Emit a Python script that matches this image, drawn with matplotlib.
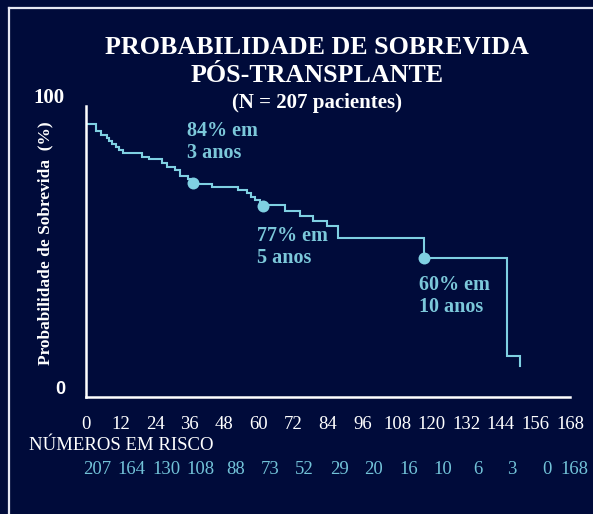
#!/usr/bin/env python

import matplotlib
matplotlib.use("Agg")
import matplotlib.pyplot as plt

W, H = 593, 514

# Kaplan-Meier curve (months, survival %)
months = [0, 3.4, 5.1, 7.2, 8.0, 9.1, 10.3, 11.5, 13.0, 19.3, 21.9, 26.4, 28.1,
          30.9, 32.6, 35.4, 36.8, 43.8, 52.8, 55.9, 57.3, 58.7, 60.4, 69.1,
          74.3, 78.8, 83.7, 87.5, 117.4, 146.2, 150.7]
survival = [93.8, 91.5, 90.0, 88.9, 88.0, 86.9, 85.9, 84.8, 83.7, 82.6, 81.8,
            80.4, 79.0, 78.0, 75.9, 74.9, 73.2, 72.2, 71.1, 70.1, 68.8, 67.7,
            66.0, 64.0, 62.2, 60.5, 58.8, 54.7, 47.9, 14.0, 10.5]

# highlighted points
dot_months = [37.2, 61.5, 117.4]
dot_surv = [73.5, 65.7, 47.9]
dot_labels = ["84% em\n3 anos", "77% em\n5 anos", "60% em\n10 anos"]

ticks = list(range(0, 169, 12))
at_risk = ["207", "164", "130", "108", "88", "73", "52", "29", "20", "16",
           "10", "6", "3", "0", "168"]

BG = "#000b3a"
LINE = "#7fd0e2"
TXT_BLUE = "#7cc8da"
RISK_BLUE = "#72c2d8"
WHITE = "#ffffff"
SERIF = "Liberation Serif"


def px(x, y):
    return x / W, 1 - y / H


def main():
    fig = plt.figure(figsize=(W / 100, H / 100), dpi=100, facecolor=BG)
    ax = fig.add_axes([86 / W, (H - 397) / H, (570 - 86) / W, (397 - 106) / H])
    ax.set_facecolor(BG)

    ax.plot(months, survival, drawstyle="steps-post", color=LINE, lw=1.5,
            solid_joinstyle="miter")
    ax.plot(dot_months, dot_surv, "o", color=LINE, ms=8.6, mec="none")

    # annotation text positions in pixels (left, first line top)
    label_pos = [(187, 121), (257, 226), (419, 275)]
    for (lx, ly), lab in zip(label_pos, dot_labels):
        fig.text(*px(lx, ly), lab, color=TXT_BLUE, fontsize=14.5,
                 fontweight="bold", family=SERIF, ha="left", va="top",
                 linespacing=1.12)

    ax.set_xlim(0, 168)
    ax.set_ylim(0, 100)
    for s in ["top", "right"]:
        ax.spines[s].set_visible(False)
    for s in ["left", "bottom"]:
        ax.spines[s].set_color(WHITE)
        ax.spines[s].set_linewidth(1.8)
    ax.set_yticks([])
    ax.set_xticks(ticks)
    ax.set_xticklabels([str(t) for t in ticks], family=SERIF, fontsize=13.5,
                       color=WHITE)
    ax.tick_params(axis="x", length=0, pad=14)

    # numbers at risk (last one nudged so it stays inside the figure)
    for i, (t, n) in enumerate(zip(ticks, at_risk)):
        dx = 3 if i == len(ticks) - 1 else 8
        ax.annotate(n, xy=(t, 0), xycoords=ax.get_xaxis_transform(),
                    xytext=(dx, -52.5), textcoords="offset points",
                    ha="center", va="center", color=RISK_BLUE,
                    fontsize=13.5, family=SERIF, annotation_clip=False)
    fig.text(*px(29, 446), "NÚMEROS EM RISCO", color=WHITE, fontsize=13.5,
             family=SERIF, ha="left", va="center")

    # y labels
    fig.text(*px(49, 98), "100", color=WHITE, fontsize=15, fontweight="bold",
             family=SERIF, ha="center", va="center")
    fig.text(*px(60, 390), "0", color=WHITE, fontsize=13, fontweight="bold",
             family="Liberation Sans", ha="center", va="center")
    fig.text(*px(45, 243), "Probabilidade de Sobrevida  (%)", color=WHITE,
             fontsize=12.5, fontweight="bold", family=SERIF, rotation=90,
             ha="center", va="center")

    # title
    fig.text(*px(317, 47), "PROBABILIDADE DE SOBREVIDA", color=WHITE,
             fontsize=18.7, fontweight="bold", family=SERIF, ha="center",
             va="center")
    fig.text(*px(317, 75), "PÓS-TRANSPLANTE", color=WHITE, fontsize=18.7,
             fontweight="bold", family=SERIF, ha="center", va="center")
    fig.text(*px(317, 103), "(N = 207 pacientes)", color=WHITE, fontsize=15,
             fontweight="bold", family=SERIF, ha="center", va="center")

    # outer frame (only left and top visible)
    fig.add_artist(plt.Line2D([9 / W, 9 / W], [0, 1 - 8 / H],
                              transform=fig.transFigure, color="#e6e8f2", lw=1.6))
    fig.add_artist(plt.Line2D([9 / W, 1], [1 - 8 / H, 1 - 8 / H],
                              transform=fig.transFigure, color="#e6e8f2", lw=1.6))

    fig.savefig("out.png", dpi=100, facecolor=BG)


if __name__ == "__main__":
    main()
